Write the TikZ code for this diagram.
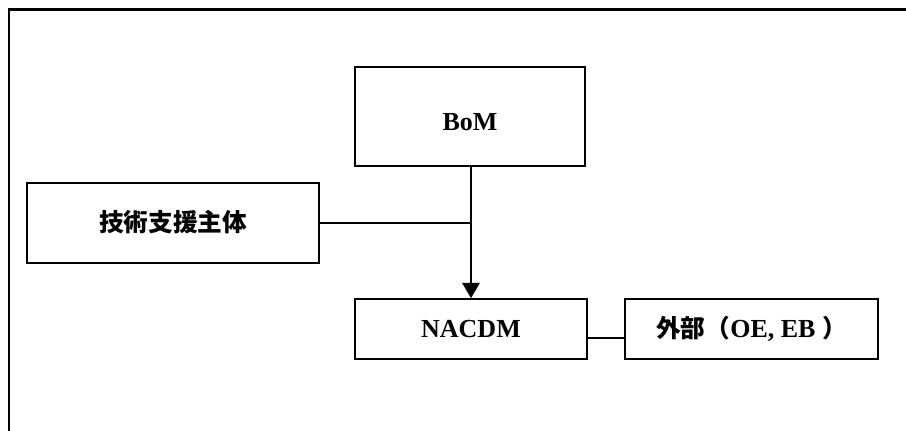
\documentclass[tikz,border=0pt]{standalone}
\usepackage{fontspec}
\setmainfont{Liberation Serif}
\newfontfamily\cjk{Noto Sans CJK JP}
\usetikzlibrary{arrows.meta}
\begin{document}
\begin{tikzpicture}[x=0.75pt,y=-0.75pt,
  box/.style={draw, line width=1.1pt, inner sep=0pt, font=\fontsize{19.5}{23}\selectfont\bfseries},
  cjktext/.style={font=\fontsize{18.5}{22}\selectfont\cjk\bfseries},
  link/.style={draw, line width=1.1pt},
  frameline/.style={draw, line width=1.6pt}]
  \useasboundingbox (0,0) rectangle (906,431);
  % outer frame (top and left edges only)
  \draw[frameline] (9,431) -- (9,9.5) -- (906,9.5);
  % boxes
  \node[box, minimum width=172.5pt, minimum height=74.25pt,
        label={[name=bomtext, yshift=-4pt, font=\fontsize{19.5}{23}\selectfont\bfseries]center:BoM}]
        (bom) at (470,116.5) {};
  \node[box, cjktext, minimum width=219pt, minimum height=60pt] (tech) at (173,223)
        {\raisebox{3pt}{技術支援主体}};
  \node[box, minimum width=174pt, minimum height=45pt] (nacdm) at (471,329) {NACDM};
  \node[box, minimum width=189.75pt, minimum height=45pt] (ext) at (751.5,329)
        {{\fontsize{18.5}{22}\selectfont\cjk\bfseries 外部（}OE, EB {\fontsize{18.5}{22}\selectfont\cjk\bfseries ）}};
  % connectors
  \coordinate (join) at (tech.east -| nacdm.north);
  \draw[link, -{Triangle[width=13pt,length=11.5pt]}] (bom.south -| nacdm.north) -- (nacdm.north);
  \draw[link] (tech.east) -- (join);
  \draw[link] ([yshift=-6.75pt]nacdm.east) -- ([yshift=-6.75pt]ext.west);
\end{tikzpicture}
\end{document}
